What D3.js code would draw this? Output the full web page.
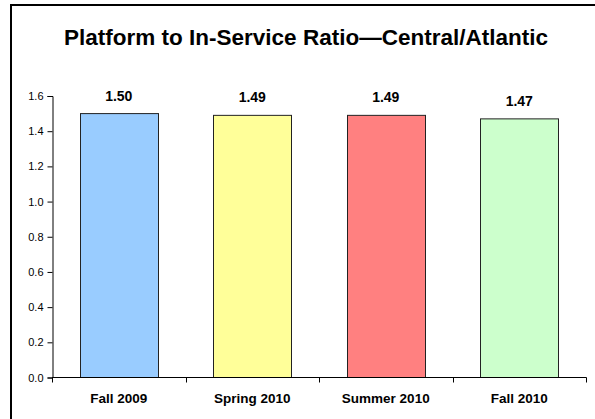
<!DOCTYPE html>
<html>
<head>
<meta charset="utf-8">
<script src="https://cdn.jsdelivr.net/npm/d3@7"></script>
<style>
  html, body { margin: 0; padding: 0; background: #fff; }
  svg { display: block; }
</style>
</head>
<body>
<svg id="chart" width="595" height="419"></svg>
<script>
// Chart data
const categories = ["Fall 2009", "Spring 2010", "Summer 2010", "Fall 2010"];
const ratios = [1.50, 1.49, 1.49, 1.47];
const barColors = ["#99CCFF", "#FFFF99", "#FF8080", "#CCFFCC"];
const yTicks = [0, 0.2, 0.4, 0.6, 0.8, 1.0, 1.2, 1.4, 1.6];
const titleText = "Platform to In-Service Ratio\u2014Central/Atlantic";

const svg = d3.select("#chart");
const font = "'Liberation Sans', Arial, sans-serif";

// Outer frame (runs past the right and bottom edges)
svg.append("rect")
  .attr("x", 11).attr("y", 5)
  .attr("width", 600).attr("height", 430)
  .attr("fill", "#fff")
  .attr("stroke", "#000")
  .attr("stroke-width", 2);

// Title
svg.append("text")
  .attr("x", 306).attr("y", 45)
  .attr("text-anchor", "middle")
  .attr("font-family", font)
  .attr("font-weight", "bold")
  .attr("font-size", 22.5)
  .attr("fill", "#000")
  .text(titleText);

const plot = { left: 52, right: 586, top: 96, bottom: 377.5 };

const x = d3.scaleBand()
  .domain(categories)
  .range([plot.left, plot.right])
  .paddingInner(0.415)
  .paddingOuter(0.2075);

const y = d3.scaleLinear()
  .domain([0, 1.6])
  .range([plot.bottom, plot.top]);

// Bars
svg.append("g").selectAll("rect")
  .data(categories)
  .join("rect")
  .attr("x", d => Math.round(x(d)) + 0.5)
  .attr("y", (d, i) => y(ratios[i]))
  .attr("width", Math.round(x.bandwidth()))
  .attr("height", (d, i) => plot.bottom - y(ratios[i]))
  .attr("fill", (d, i) => barColors[i])
  .attr("stroke", "#222")
  .attr("stroke-width", 1);

// Value labels
svg.append("g").selectAll("text")
  .data(categories)
  .join("text")
  .attr("x", d => x(d) + x.bandwidth() / 2)
  .attr("y", (d, i) => y(ratios[i]) - 13)
  .attr("text-anchor", "middle")
  .attr("font-family", font)
  .attr("font-weight", "bold")
  .attr("font-size", 14)
  .attr("fill", "#000")
  .text((d, i) => ratios[i].toFixed(2));

// Y axis
const yAxis = d3.axisLeft(y)
  .tickValues(yTicks)
  .tickFormat(d3.format(".1f"))
  .tickSize(5)
  .tickPadding(4);
const gy = svg.append("g")
  .attr("transform", `translate(${plot.left + 0.5},0)`)
  .call(yAxis);
gy.select(".domain").attr("stroke", "#000");
gy.selectAll(".tick line").attr("stroke", "#000");
gy.selectAll(".tick text")
  .attr("font-family", font)
  .attr("font-size", 11)
  .attr("fill", "#000");

// X axis: line with boundary ticks between categories
const gx = svg.append("g")
  .attr("transform", `translate(0,${plot.bottom})`);
gx.append("line")
  .attr("x1", plot.left).attr("x2", plot.right + 0.5)
  .attr("stroke", "#000");
const bounds = d3.range(categories.length + 1).map(i => plot.left + i * (plot.right - plot.left) / categories.length);
gx.selectAll(".bt")
  .data(bounds)
  .join("line")
  .attr("x1", d => Math.round(d) + 0.5)
  .attr("x2", d => Math.round(d) + 0.5)
  .attr("y1", 0).attr("y2", 5)
  .attr("stroke", "#000");
gx.selectAll("text")
  .data(categories)
  .join("text")
  .attr("x", d => x(d) + x.bandwidth() / 2)
  .attr("y", 25)
  .attr("text-anchor", "middle")
  .attr("font-family", font)
  .attr("font-weight", "bold")
  .attr("font-size", 13.5)
  .attr("fill", "#000")
  .text(d => d);
</script>
</body>
</html>
